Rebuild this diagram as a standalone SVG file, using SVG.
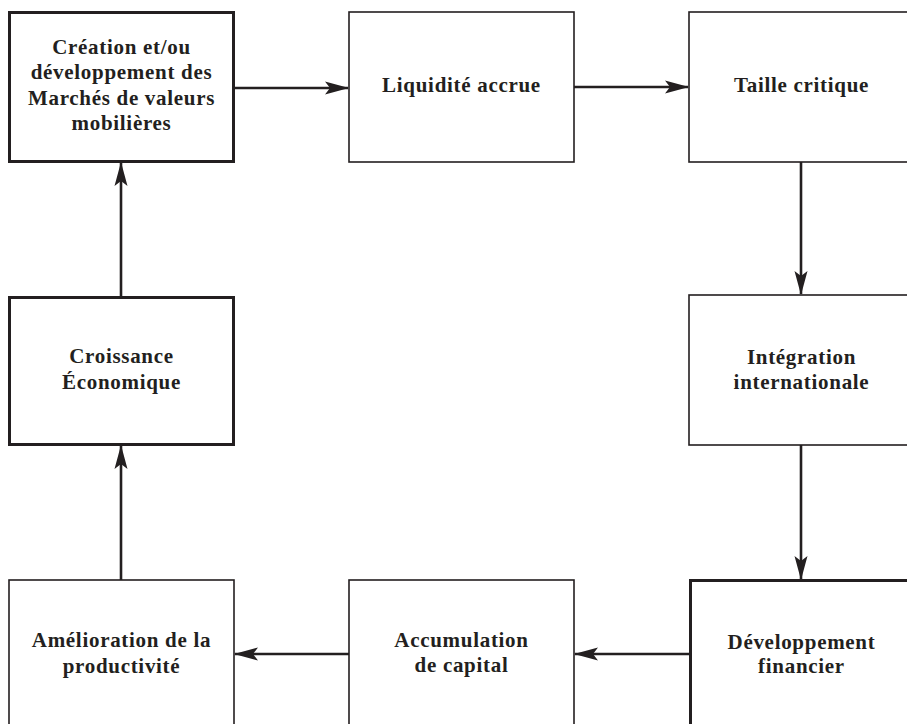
<svg xmlns="http://www.w3.org/2000/svg" width="907" height="724" viewBox="0 0 907 724">
<style>
.box{fill:#fff;stroke:#231f20;stroke-width:1.6}
.thick{stroke-width:3}
.lbl{font-family:"Liberation Serif","Times New Roman",serif;font-weight:bold;font-size:21px;fill:#231f20;text-anchor:middle;letter-spacing:0.7px}
.conn{stroke:#231f20;stroke-width:2.6;fill:none}
</style>
<defs>
<marker id="ah" viewBox="0 0 24 14" refX="23" refY="7" markerWidth="24" markerHeight="14" markerUnits="userSpaceOnUse" orient="auto">
<path d="M0,0.5 L24,7 L0,13.5 L5,7 Z" fill="#231f20"/>
</marker>
</defs>
<rect width="907" height="724" fill="#fff"/>
<g id="connectors">
<line class="conn" x1="234" y1="88" x2="348" y2="88" marker-end="url(#ah)"/>
<line class="conn" x1="574" y1="87" x2="688" y2="87" marker-end="url(#ah)"/>
<line class="conn" x1="801" y1="162" x2="801" y2="294" marker-end="url(#ah)"/>
<line class="conn" x1="801" y1="445" x2="801" y2="579" marker-end="url(#ah)"/>
<line class="conn" x1="690" y1="654" x2="575" y2="654" marker-end="url(#ah)"/>
<line class="conn" x1="349" y1="654" x2="235" y2="654" marker-end="url(#ah)"/>
<line class="conn" x1="121" y1="580" x2="121" y2="446" marker-end="url(#ah)"/>
<line class="conn" x1="121" y1="297" x2="121" y2="163" marker-end="url(#ah)"/>
</g>
<g id="creation">
<rect class="box thick" x="9.5" y="12.5" width="224" height="149"/>
<text class="lbl" x="121.5" y="54">Création et/ou</text>
<text class="lbl" x="121.5" y="79">développement des</text>
<text class="lbl" x="121.5" y="104.5">Marchés de valeurs</text>
<text class="lbl" x="121.5" y="130">mobilières</text>
</g>
<g id="liquidite">
<rect class="box" x="349" y="12" width="225" height="150"/>
<text class="lbl" x="461.5" y="92">Liquidité accrue</text>
</g>
<g id="taille">
<rect class="box" x="689" y="12" width="225" height="150"/>
<text class="lbl" x="801.5" y="92">Taille critique</text>
</g>
<g id="integration">
<rect class="box" x="689" y="295" width="225" height="150"/>
<text class="lbl" x="801.5" y="364">Intégration</text>
<text class="lbl" x="801.5" y="389">internationale</text>
</g>
<g id="developpement">
<rect class="box thick" x="690.5" y="580.5" width="225" height="160"/>
<text class="lbl" x="801.5" y="649">Développement</text>
<text class="lbl" x="801.5" y="673">financier</text>
</g>
<g id="accumulation">
<rect class="box" x="349" y="580" width="225" height="160"/>
<text class="lbl" x="461.5" y="647">Accumulation</text>
<text class="lbl" x="461.5" y="672">de capital</text>
</g>
<g id="amelioration">
<rect class="box" x="9" y="580" width="225" height="160"/>
<text class="lbl" x="121.5" y="647">Amélioration de la</text>
<text class="lbl" x="121.5" y="673">productivité</text>
</g>
<g id="croissance">
<rect class="box thick" x="9.5" y="297.5" width="224" height="147"/>
<text class="lbl" x="121.5" y="363">Croissance</text>
<text class="lbl" x="121.5" y="389">Économique</text>
</g>
</svg>
